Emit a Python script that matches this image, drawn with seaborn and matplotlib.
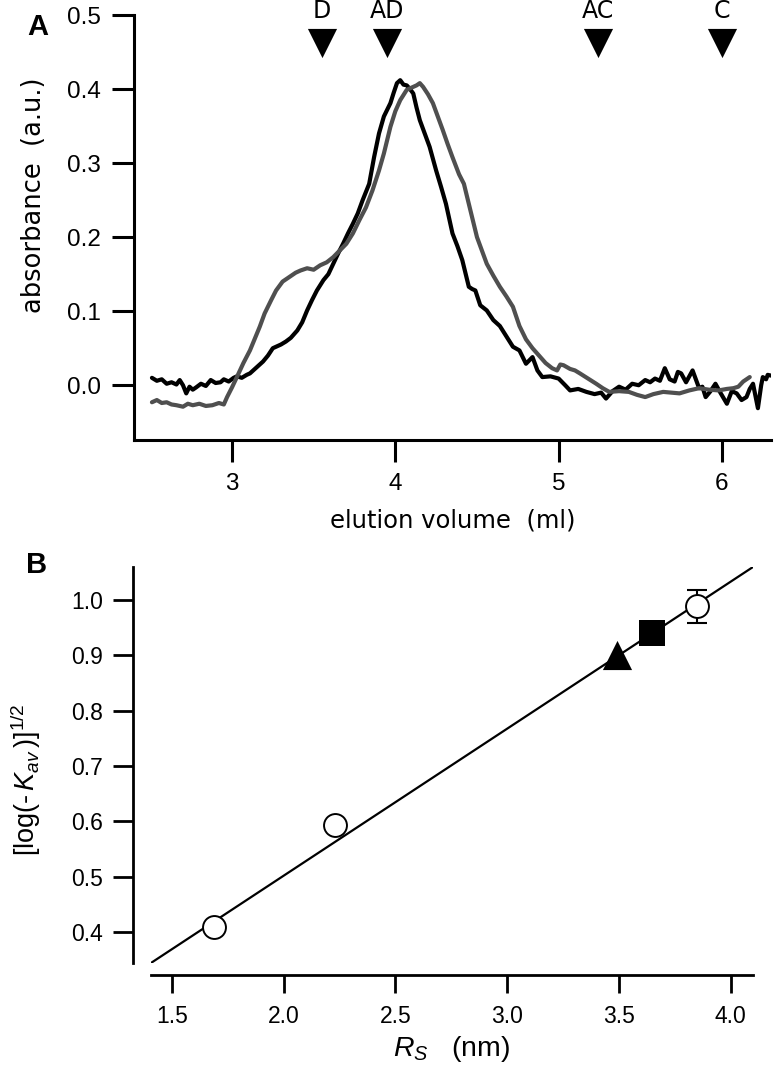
import numpy as np
import matplotlib
matplotlib.use("Agg")
import matplotlib.pyplot as plt
import seaborn as sns

# ---- panel A: elution profiles ----
vol_black = [2.51, 2.54, 2.57, 2.60, 2.63, 2.66, 2.68, 2.70, 2.72, 2.74, 2.76, 2.78, 2.81, 2.84,
             2.87, 2.90, 2.93, 2.95, 2.98, 3.01, 3.03, 3.06, 3.09, 3.11, 3.14, 3.17, 3.19, 3.22,
             3.25, 3.27, 3.30, 3.33, 3.36, 3.40, 3.43, 3.46, 3.49, 3.52, 3.56, 3.59, 3.62, 3.65,
             3.68, 3.71, 3.74, 3.77, 3.80, 3.84, 3.87, 3.90, 3.93, 3.97, 3.99, 4.01, 4.03, 4.05,
             4.07, 4.09, 4.11, 4.13, 4.15, 4.18, 4.21, 4.25, 4.28, 4.31, 4.35, 4.38, 4.41, 4.45,
             4.47, 4.49, 4.52, 4.56, 4.60, 4.64, 4.68, 4.72, 4.76, 4.80, 4.84, 4.87, 4.90, 4.95,
             5.00, 5.04, 5.07, 5.12, 5.17, 5.22, 5.26, 5.29, 5.33, 5.37, 5.41, 5.45, 5.49, 5.53,
             5.56, 5.59, 5.62, 5.65, 5.68, 5.71, 5.73, 5.75, 5.78, 5.82, 5.84, 5.86, 5.88, 5.90,
             5.93, 5.96, 5.99, 6.03, 6.06, 6.09, 6.12, 6.15, 6.17, 6.19, 6.21, 6.22, 6.24, 6.25,
             6.27, 6.28, 6.30]
abs_black = [0.010, 0.006, 0.008, 0.002, 0.004, 0.001, 0.007, 0.000, -0.011, -0.002, -0.006, -0.003,
             0.002, -0.001, 0.007, 0.003, 0.004, 0.008, 0.005, 0.010, 0.012, 0.010, 0.014, 0.016,
             0.022, 0.028, 0.032, 0.040, 0.050, 0.052, 0.055, 0.059, 0.064, 0.074, 0.085, 0.101,
             0.115, 0.128, 0.142, 0.150, 0.164, 0.178, 0.191, 0.205, 0.218, 0.232, 0.250, 0.272,
             0.308, 0.340, 0.363, 0.381, 0.395, 0.408, 0.412, 0.406, 0.405, 0.400, 0.394, 0.375,
             0.358, 0.340, 0.322, 0.290, 0.268, 0.245, 0.205, 0.188, 0.169, 0.133, 0.130, 0.128,
             0.108, 0.101, 0.088, 0.080, 0.066, 0.052, 0.047, 0.029, 0.038, 0.020, 0.011, 0.012,
             0.009, 0.000, -0.007, -0.005, -0.009, -0.012, -0.010, -0.018, -0.008, -0.002, -0.006,
             0.002, 0.000, 0.007, 0.004, 0.009, 0.006, 0.023, 0.008, 0.005, 0.018, 0.016, 0.004,
             0.020, 0.008, -0.004, -0.002, -0.016, -0.008, 0.002, -0.010, -0.025, -0.008, -0.011,
             -0.020, -0.016, -0.005, 0.002, -0.020, -0.031, 0.000, 0.011, 0.008, 0.014, 0.013]

vol_gray = [2.51, 2.54, 2.57, 2.60, 2.63, 2.66, 2.70, 2.73, 2.76, 2.80, 2.84, 2.88, 2.92, 2.95,
            2.97, 3.00, 3.03, 3.07, 3.11, 3.14, 3.17, 3.20, 3.24, 3.27, 3.31, 3.35, 3.39, 3.42,
            3.46, 3.50, 3.54, 3.58, 3.62, 3.66, 3.70, 3.74, 3.78, 3.82, 3.86, 3.90, 3.93, 3.97,
            4.00, 4.03, 4.07, 4.10, 4.13, 4.15, 4.17, 4.20, 4.23, 4.26, 4.29, 4.32, 4.35, 4.39,
            4.42, 4.46, 4.50, 4.53, 4.56, 4.60, 4.64, 4.68, 4.72, 4.76, 4.80, 4.84, 4.88, 4.92,
            4.96, 4.99, 5.01, 5.03, 5.07, 5.10, 5.13, 5.18, 5.23, 5.27, 5.31, 5.37, 5.43, 5.48,
            5.53, 5.58, 5.64, 5.69, 5.74, 5.80, 5.86, 5.92, 5.98, 6.03, 6.07, 6.10, 6.13, 6.15,
            6.17]
abs_gray = [-0.023, -0.020, -0.024, -0.023, -0.026, -0.027, -0.029, -0.025, -0.027, -0.025, -0.028,
            -0.027, -0.024, -0.026, -0.016, -0.003, 0.011, 0.030, 0.047, 0.063, 0.079, 0.097,
            0.115, 0.128, 0.140, 0.146, 0.152, 0.155, 0.158, 0.156, 0.162, 0.166, 0.173, 0.182,
            0.191, 0.205, 0.223, 0.240, 0.263, 0.290, 0.313, 0.349, 0.370, 0.385, 0.399, 0.402,
            0.405, 0.408, 0.403, 0.393, 0.381, 0.363, 0.345, 0.326, 0.308, 0.285, 0.272, 0.236,
            0.200, 0.182, 0.164, 0.148, 0.133, 0.120, 0.106, 0.080, 0.062, 0.050, 0.040, 0.030,
            0.023, 0.020, 0.028, 0.027, 0.022, 0.020, 0.016, 0.009, 0.002, -0.004, -0.009, -0.008,
            -0.009, -0.013, -0.016, -0.012, -0.009, -0.010, -0.011, -0.007, -0.004, -0.006, -0.007,
            -0.005, -0.004, -0.002, 0.005, 0.008, 0.011]

marker_names = ["D", "AD", "AC", "C"]
marker_vol = [3.55, 3.95, 5.24, 6.00]

# ---- panel B: calibration ----
rs_standards = [1.69, 2.23, 3.85]
kav_standards = [0.409, 0.593, 0.989]
kav_err = [0.0, 0.0, 0.03]
rs_triangle = [3.49]
kav_triangle = [0.90]
rs_square = [3.647]
kav_square = [0.94]
fit_x = [1.406, 4.10]
fit_y = [0.344, 1.06]

sns.set_theme(style="ticks")
plt.rcParams["font.family"] = ["Liberation Sans", "DejaVu Sans"]
plt.rcParams["mathtext.fontset"] = "custom"
plt.rcParams["mathtext.rm"] = "Liberation Sans"
plt.rcParams["mathtext.it"] = "Liberation Sans:italic"
for key in ["text.color", "axes.labelcolor", "xtick.color", "ytick.color", "axes.edgecolor"]:
    plt.rcParams[key] = "black"

fig = plt.figure(figsize=(7.74, 10.74), dpi=100)

# panel A
ax1 = fig.add_axes([0.1731, 0.5903, 0.823, 0.3957])
sns.lineplot(x=vol_black, y=abs_black, ax=ax1, color="black", lw=3.0, sort=False, estimator=None)
sns.lineplot(x=vol_gray, y=abs_gray, ax=ax1, color="#4f4f4f", lw=3.0, sort=False, estimator=None)
ax1.set_xlim(2.40, 6.30)
ax1.set_ylim(-0.074, 0.5)
ax1.set_xticks([3, 4, 5, 6])
ax1.set_yticks([0.0, 0.1, 0.2, 0.3, 0.4, 0.5])
ax1.set_yticklabels(["%.1f" % v for v in [0.0, 0.1, 0.2, 0.3, 0.4, 0.5]])
sns.despine(ax=ax1)
for s in ["left", "bottom"]:
    ax1.spines[s].set_linewidth(2.2)
ax1.tick_params(axis="both", length=15.5, width=2.2, labelsize=17.5, pad=8)

ax1.scatter(marker_vol, [0.462] * len(marker_vol), marker="v", s=21 ** 2, color="black",
            clip_on=False, zorder=5, linewidths=0)
for name, v in zip(marker_names, marker_vol):
    ax1.text(v, 0.506, name, ha="center", va="center", fontsize=17, family="DejaVu Sans",
             clip_on=False)

ax1.set_xlabel("elution volume  (ml)", fontsize=17.5, family="DejaVu Sans")
ax1.set_ylabel("absorbance  (a.u.)", fontsize=18.5, family="DejaVu Sans")
ax1.xaxis.set_label_coords(0.5, -0.16)
ax1.yaxis.set_label_coords(-0.137, 0.576)

# panel B
ax2 = fig.add_axes([0.1951, 0.1034, 0.7778, 0.3687])
sns.lineplot(x=fit_x, y=fit_y, ax=ax2, color="black", lw=1.6, zorder=1)
ax2.errorbar(rs_standards[2:], kav_standards[2:], yerr=kav_err[2:], fmt="none", ecolor="black",
             elinewidth=1.5, capsize=7, capthick=1.5, zorder=2)
sns.scatterplot(x=rs_standards, y=kav_standards, ax=ax2, marker="o", s=16.5 ** 2,
                color="white", edgecolor="black", linewidth=1.4, zorder=3)
sns.scatterplot(x=rs_triangle, y=kav_triangle, ax=ax2, marker="^", s=21 ** 2,
                color="black", edgecolor="black", linewidth=0, zorder=3)
sns.scatterplot(x=rs_square, y=kav_square, ax=ax2, marker="s", s=18.5 ** 2,
                color="black", edgecolor="black", linewidth=0, zorder=3)
ax2.set_xlim(1.406, 4.10)
ax2.set_ylim(0.344, 1.06)
ax2.set_xticks([1.5, 2.0, 2.5, 3.0, 3.5, 4.0])
ax2.set_xticklabels(["%.1f" % v for v in [1.5, 2.0, 2.5, 3.0, 3.5, 4.0]])
ax2.set_yticks([0.4, 0.5, 0.6, 0.7, 0.8, 0.9, 1.0])
ax2.set_yticklabels(["%.1f" % v for v in [0.4, 0.5, 0.6, 0.7, 0.8, 0.9, 1.0]])
sns.despine(ax=ax2)
ax2.spines["left"].set_position(("outward", 13))
ax2.spines["bottom"].set_position(("outward", 8.6))
for s in ["left", "bottom"]:
    ax2.spines[s].set_linewidth(2.0)
ax2.tick_params(axis="y", length=14.4, width=2.0, labelsize=16.5, pad=7)
ax2.tick_params(axis="x", length=13, width=2.0, labelsize=16.5, pad=9)
ax2.set_xlabel(r"$R_S$   (nm)", fontsize=20.5)
ax2.set_ylabel("$[\\mathrm{log(\u2010}\\,K_{av}\\,\\mathrm{)]}^{1/2}$", fontsize=19.5)
ax2.xaxis.set_label_coords(0.5, -0.18)
ax2.yaxis.set_label_coords(-0.18, 0.462)

fig.text(38 / 774, 1 - 27 / 1074, "A", fontsize=21, fontweight="bold", ha="center", va="center")
fig.text(37 / 774, 1 - 565 / 1074, "B", fontsize=21, fontweight="bold", ha="center", va="center")

fig.savefig("out.png", dpi=100, facecolor="white")
